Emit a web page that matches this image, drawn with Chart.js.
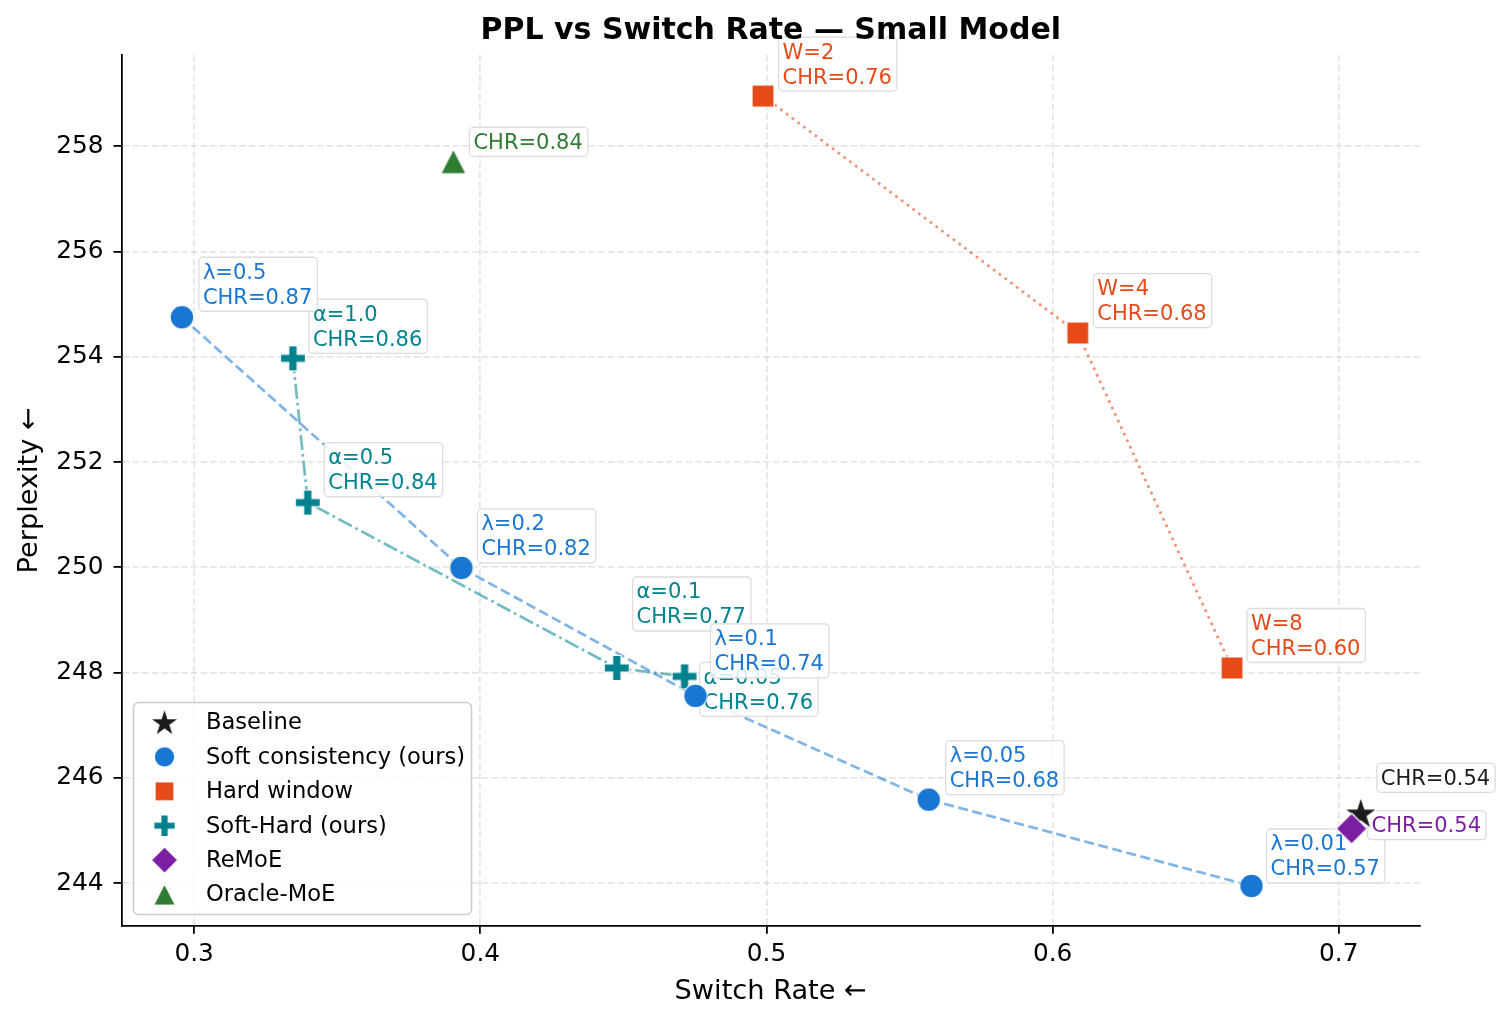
<!DOCTYPE html>
<html>
<head>
<meta charset="utf-8">
<script src="https://cdn.jsdelivr.net/npm/chart.js@4.4.0/dist/chart.umd.min.js"></script>
<style>
  html, body { margin: 0; padding: 0; background: #fff; }
  #wrap { width: 1509px; height: 1023px; }
</style>
</head>
<body>
<div id="wrap"><canvas id="pplChart" width="1509" height="1023"></canvas></div>
<script>
// axis ticks
const xTicks = [0.3, 0.4, 0.5, 0.6, 0.7];
const yTicks = [244, 246, 248, 250, 252, 254, 256, 258];

// Soft consistency (ours)
const softSwitch = [0.2957, 0.3934, 0.4752, 0.5567, 0.6695];
const softPpl = [254.75, 249.99, 247.56, 245.59, 243.95];
const softNames = ["λ=0.5", "λ=0.2", "λ=0.1", "λ=0.05", "λ=0.01"];
const softChr = [0.87, 0.82, 0.74, 0.68, 0.57];

// Hard window
const hardSwitch = [0.4988, 0.6088, 0.6627];
const hardPpl = [258.95, 254.45, 248.09];
const hardNames = ["W=2", "W=4", "W=8"];
const hardChr = [0.76, 0.68, 0.60];

// Soft-Hard (ours)
const shSwitch = [0.3345, 0.3397, 0.4477, 0.4714];
const shPpl = [253.97, 251.23, 248.09, 247.93];
const shNames = ["α=1.0", "α=0.5", "α=0.1", "α=0.05"];
const shChr = [0.86, 0.84, 0.77, 0.76];

// single points
const baseSwitch = [0.7077];
const basePpl = [245.33];
const baseChr = [0.54];
const remoeSwitch = [0.7045];
const remoePpl = [245.04];
const remoeChr = [0.54];
const oracleSwitch = [0.3906];
const oraclePpl = [257.71];
const oracleChr = [0.84];

// label box offsets (px from point: box left, box bottom)
const softOffsets = [[17, -6], [16, -5], [15, -18], [17, -5], [15, -3]];
const hardOffsets = [[15.5, -5], [15.5, -5.5], [15, -5.5]];
const shOffsets = [[16, -5], [16.5, -6], [15.7, -37], [15, 40]];
const baseOffsets = [[16, -21]];
const remoeOffsets = [[16, 11]];
const oracleOffsets = [[16, -5]];

const FONT = "'DejaVu Sans', 'Liberation Sans', sans-serif";
Chart.defaults.font.family = FONT;

function makeMarker(shape, color) {
    const size = 38;
    const c = document.createElement("canvas");
    c.width = size; c.height = size;
    const g = c.getContext("2d");
    const m = size / 2;
    g.fillStyle = color;
    g.strokeStyle = "#fff";
    g.lineWidth = 1.2;
    g.beginPath();
    if (shape === "circle") {
        g.arc(m, m, 11.8, 0, Math.PI * 2);
    } else if (shape === "square") {
        g.rect(m - 11, m - 11, 22, 22);
    } else if (shape === "diamond") {
        g.moveTo(m, m - 15.5); g.lineTo(m + 15.5, m);
        g.lineTo(m, m + 15.5); g.lineTo(m - 15.5, m);
        g.closePath();
    } else if (shape === "triangle") {
        g.moveTo(m, m - 12.3); g.lineTo(m + 12.6, m + 12.3);
        g.lineTo(m - 12.6, m + 12.3); g.closePath();
    } else if (shape === "plus") {
        const a = 12.5, b = 4.2;
        const pts = [[-b,-a],[b,-a],[b,-b],[a,-b],[a,b],[b,b],[b,a],[-b,a],[-b,b],[-a,b],[-a,-b],[-b,-b]];
        pts.forEach((p, i) => i ? g.lineTo(m + p[0], m + p[1]) : g.moveTo(m + p[0], m + p[1]));
        g.closePath();
    } else if (shape === "star") {
        const R = 17.5, r = R * 0.382;
        for (let i = 0; i < 10; i++) {
            const rad = i % 2 ? r : R;
            const ang = -Math.PI / 2 + i * Math.PI / 5;
            const px = m + rad * Math.cos(ang), py = m + 1 + rad * Math.sin(ang);
            i ? g.lineTo(px, py) : g.moveTo(px, py);
        }
        g.closePath();
    }
    g.fill();
    g.stroke();
    return c;
}

function points(xs, ys) {
    return xs.map((x, i) => ({ x: x, y: ys[i] }));
}

function lineSet(xs, ys, color, dash, order) {
    return {
        data: points(xs, ys),
        showLine: true,
        borderColor: color,
        borderWidth: 2.7,
        borderDash: dash,
        borderCapStyle: "butt",
        pointRadius: 0,
        pointHoverRadius: 0,
        order: order
    };
}

function markerSet(label, xs, ys, shape, color, names, chr, offsets, order) {
    return {
        label: label,
        data: points(xs, ys),
        isMarkers: true,
        color: color,
        names: names,
        chr: chr,
        offsets: offsets,
        pointStyle: makeMarker(shape, color),
        pointRadius: 12,
        pointHoverRadius: 12,
        showLine: false,
        order: order
    };
}

const datasets = [
    markerSet("Baseline", baseSwitch, basePpl, "star", "#1c1c1c", null, baseChr, baseOffsets, 1),
    markerSet("Soft consistency (ours)", softSwitch, softPpl, "circle", "#1976D2", softNames, softChr, softOffsets, 2),
    markerSet("Hard window", hardSwitch, hardPpl, "square", "#E64A19", hardNames, hardChr, hardOffsets, 4),
    markerSet("Soft-Hard (ours)", shSwitch, shPpl, "plus", "#00838F", shNames, shChr, shOffsets, 5),
    markerSet("ReMoE", remoeSwitch, remoePpl, "diamond", "#7B1FA2", null, remoeChr, remoeOffsets, 0),
    markerSet("Oracle-MoE", oracleSwitch, oraclePpl, "triangle", "#2E7D32", null, oracleChr, oracleOffsets, 3),
    lineSet(softSwitch, softPpl, "rgba(25,118,210,0.55)", [10, 4.5], 10),
    lineSet(shSwitch, shPpl, "rgba(0,131,143,0.55)", [15, 4, 2.7, 4], 11),
    lineSet(hardSwitch, hardPpl, "rgba(230,74,25,0.6)", [2.7, 4.5], 12)
];

function roundBox(ctx, x, y, w, h, r) {
    ctx.beginPath();
    ctx.moveTo(x + r, y);
    ctx.lineTo(x + w - r, y);
    ctx.arcTo(x + w, y, x + w, y + r, r);
    ctx.lineTo(x + w, y + h - r);
    ctx.arcTo(x + w, y + h, x + w - r, y + h, r);
    ctx.lineTo(x + r, y + h);
    ctx.arcTo(x, y + h, x, y + h - r, r);
    ctx.lineTo(x, y + r);
    ctx.arcTo(x, y, x + r, y, r);
    ctx.closePath();
}

// point labels: drawn over lines, under markers, same stacking as the markers
function drawLabels(chart) {
    const ctx = chart.ctx;
    const xs = chart.scales.x, ys = chart.scales.y;
    ctx.save();
    ctx.font = "21px " + FONT;
    ctx.textBaseline = "middle";
    ctx.textAlign = "left";
    const sets = chart.data.datasets.filter(ds => ds.isMarkers).sort((a, b) => b.order - a.order);
    sets.forEach(ds => {
        ds.data.forEach((p, i) => {
            const px = xs.getPixelForValue(p.x);
            const py = ys.getPixelForValue(p.y);
            const lines = [];
            if (ds.names) lines.push(ds.names[i]);
            lines.push("CHR=" + ds.chr[i].toFixed(2));
            const w = Math.max(...lines.map(t => ctx.measureText(t).width)) + 9;
            const h = 25 * lines.length + 4;
            const left = px + ds.offsets[i][0];
            const top = py + ds.offsets[i][1] - h;
            roundBox(ctx, left, top, w, h, 4);
            ctx.fillStyle = "rgba(255,255,255,0.85)";
            ctx.fill();
            ctx.strokeStyle = "#dcdcdc";
            ctx.lineWidth = 1.3;
            ctx.stroke();
            ctx.fillStyle = ds.color;
            lines.forEach((t, j) => ctx.fillText(t, left + 4, top + 16 + 25 * j));
        });
    });
    ctx.restore();
}

function drawLegend(chart) {
    const ctx = chart.ctx;
    ctx.save();
    roundBox(ctx, 133.5, 702.5, 338, 212, 5);
    ctx.fillStyle = "rgba(255,255,255,0.8)";
    ctx.fill();
    ctx.strokeStyle = "#cccccc";
    ctx.lineWidth = 1.5;
    ctx.stroke();
    ctx.font = "22.6px " + FONT;
    ctx.textBaseline = "middle";
    ctx.fillStyle = "#000";
    let row = 0;
    chart.data.datasets.forEach(ds => {
        if (!ds.isMarkers) return;
        const cy = 722.5 + row * 34.4;
        const img = ds.pointStyle, s = 0.85;
        ctx.drawImage(img, 164.5 - img.width * s / 2, cy - img.height * s / 2, img.width * s, img.height * s);
        ctx.fillText(ds.label, 206, cy + 1);
        row++;
    });
    ctx.restore();
}

const decor = {
    id: "decor",
    beforeDatasetsDraw(chart) { chart.$labelsDone = false; },
    beforeDatasetDraw(chart, args) {
        const ds = chart.data.datasets[args.index];
        if (ds.isMarkers && !chart.$labelsDone) {
            drawLabels(chart);
            chart.$labelsDone = true;
        }
    },
    afterDraw(chart) {
        const ctx = chart.ctx, a = chart.chartArea;
        ctx.save();
        ctx.font = "bold 30px " + FONT;
        ctx.fillStyle = "#000";
        ctx.textAlign = "center";
        ctx.textBaseline = "middle";
        ctx.fillText("PPL vs Switch Rate — Small Model", (a.left + a.right) / 2, 31.5);
        ctx.restore();
        drawLegend(chart);
    }
};

const gridOpts = {
    color: "rgba(176,176,176,0.32)",
    lineWidth: 1.8,
    drawTicks: true,
    tickLength: 8,
    tickColor: "#000",
    tickWidth: 1.8,
    tickBorderDash: []
};
const borderOpts = { display: true, color: "#000", width: 1.8, dash: [6.8, 2.9] };

new Chart(document.getElementById("pplChart"), {
    type: "scatter",
    data: { datasets: datasets },
    options: {
        responsive: false,
        animation: false,
        devicePixelRatio: 1,
        layout: { padding: { top: 55, right: 89, bottom: 0, left: 0 } },
        plugins: { legend: { display: false }, tooltip: { enabled: false }, title: { display: false } },
        scales: {
            x: {
                type: "linear",
                min: 0.2746,
                max: 0.7284,
                afterBuildTicks: s => { s.ticks = xTicks.map(v => ({ value: v })); },
                afterFit: s => { s.height = 97.3; },
                ticks: { color: "#000", font: { size: 24.8 }, padding: 6, callback: v => v.toFixed(1) },
                grid: gridOpts,
                border: borderOpts,
                title: { display: true, text: "Switch Rate ←", color: "#000", font: { size: 27.2 }, padding: { top: 0, bottom: 15 } }
            },
            y: {
                type: "linear",
                min: 243.196,
                max: 259.73,
                afterBuildTicks: s => { s.ticks = yTicks.map(v => ({ value: v })); },
                afterFit: s => { s.width = 121.5; },
                ticks: { color: "#000", font: { size: 24.8 }, padding: 10, callback: v => String(v) },
                grid: gridOpts,
                border: borderOpts,
                title: { display: true, text: "Perplexity ←", color: "#000", font: { size: 27.2 }, padding: { top: 14, bottom: 0 } }
            }
        }
    },
    plugins: [decor]
});
</script>
</body>
</html>
